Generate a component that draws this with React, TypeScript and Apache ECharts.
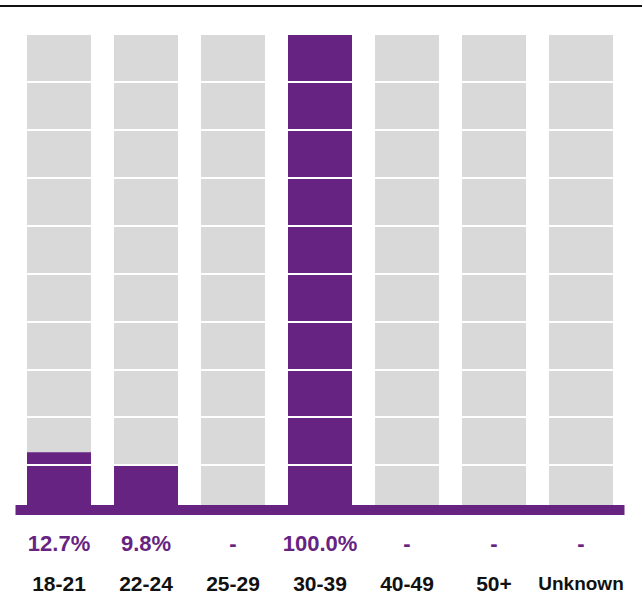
import React, { useEffect, useRef } from "react";
import * as echarts from "echarts";

const categories = ["18-21", "22-24", "25-29", "30-39", "40-49", "50+", "Unknown"];
const values = [12.7, 9.8, 0, 100, 0, 0, 0];
const yTicks = [0, 10, 20, 30, 40, 50, 60, 70, 80, 90, 100];

const PURPLE = "#672382";
const GRAY = "#d9d9d9";
const FONT = "'Liberation Sans', Arial, sans-serif";

export default function App() {
  const ref = useRef<HTMLDivElement>(null);
  useEffect(() => {
    if (!ref.current) return;
    const chart = echarts.init(ref.current, undefined, { renderer: "svg" });
    const pctLabels = values.map((v) => (v > 0 ? v.toFixed(1) + "%" : "-"));
    chart.setOption({
      animation: false,
      backgroundColor: "#ffffff",
      grid: { left: 15.5, right: 17.5, top: 34, bottom: 83, containLabel: false },
      graphic: [
        {
          type: "rect",
          shape: { x: 0, y: 5, width: 642, height: 2 },
          style: { fill: "#111111" },
        },
      ],
      xAxis: {
        type: "category",
        data: categories,
        z: 4,
        offset: -3,
        axisLine: { show: true, lineStyle: { color: PURPLE, width: 10, cap: "butt" } },
        axisTick: { show: false },
        axisLabel: {
          margin: 13,
          interval: 0,
          formatter: (value: string, index: number) =>
            `{p|${pctLabels[index]}}\n{${value.length > 5 ? "cs" : "c"}|${value}}`,
          rich: {
            p: { fontSize: 22, fontWeight: "bold", color: PURPLE, fontFamily: FONT, lineHeight: 40 },
            c: { fontSize: 21, fontWeight: "bold", color: "#111111", fontFamily: FONT, lineHeight: 40 },
            cs: { fontSize: 19, fontWeight: "bold", color: "#111111", fontFamily: FONT, lineHeight: 40 },
          },
        },
      },
      yAxis: {
        type: "value",
        min: yTicks[0],
        max: yTicks[yTicks.length - 1],
        interval: yTicks[1] - yTicks[0],
        z: 3,
        axisLine: { show: false },
        axisTick: { show: false },
        axisLabel: { show: false },
        splitLine: { show: true, lineStyle: { color: "#ffffff", width: 2 } },
      },
      series: [
        {
          type: "bar",
          data: values,
          barWidth: 64,
          showBackground: true,
          backgroundStyle: { color: GRAY },
          itemStyle: { color: PURPLE },
          z: 2,
        },
      ],
    });
    return () => chart.dispose();
  }, []);
  return (
    <div
      ref={ref}
      style={{ position: "absolute", left: 0, top: 0, width: 642, height: 596 }}
    />
  );
}
